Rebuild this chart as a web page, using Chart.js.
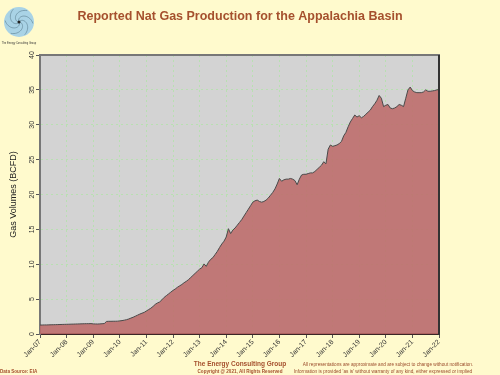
<!DOCTYPE html>
<html>
<head>
<meta charset="utf-8">
<script src="https://cdn.jsdelivr.net/npm/chart.js@4/dist/chart.umd.min.js"></script>
<style>
  html, body { margin: 0; padding: 0; background: #FFFACD; }
  #wrap { width: 500px; height: 375px; }
</style>
</head>
<body>
<div id="wrap"><canvas id="c" width="500" height="375"></canvas></div>
<script>
// ---- DATA (monthly, BCFD) ----
const tickLabels = ['Jan-07','Jan-08','Jan-09','Jan-10','Jan-11','Jan-12','Jan-13','Jan-14',
                    'Jan-15','Jan-16','Jan-17','Jan-18','Jan-19','Jan-20','Jan-21','Jan-22'];
const y2007 = [1.28,1.29,1.30,1.30,1.31,1.32,1.33,1.34,1.35,1.36,1.37,1.38];
const y2008 = [1.39,1.40,1.41,1.42,1.43,1.44,1.45,1.46,1.47,1.48,1.48,1.49];
const y2009 = [1.45,1.44,1.43,1.45,1.47,1.50,1.80,1.82,1.82,1.83,1.83,1.84];
const y2010 = [1.88,1.92,1.98,2.05,2.15,2.28,2.40,2.55,2.70,2.85,2.98,3.10];
const y2011 = [3.30,3.50,3.70,3.95,4.25,4.45,4.60,4.90,5.25,5.50,5.75,6.00];
const y2012 = [6.25,6.45,6.70,6.90,7.10,7.35,7.55,7.80,8.10,8.40,8.70,9.00];
const y2013 = [9.30,9.50,10.05,9.70,10.30,10.70,10.95,11.40,11.85,12.40,12.90,13.30];
const y2014 = [13.90,15.10,14.40,14.90,15.20,15.60,16.00,16.40,16.90,17.40,17.90,18.40];
const y2015 = [18.90,19.10,19.20,19.00,18.90,19.00,19.20,19.50,19.90,20.30,20.80,21.50];
const y2016 = [22.30,21.90,22.10,22.20,22.20,22.30,22.20,22.00,21.40,22.20,22.80,22.90];
const y2017 = [22.90,23.00,23.10,23.10,23.30,23.60,23.90,24.20,24.70,24.40,26.50,27.10];
const y2018 = [26.90,27.00,27.10,27.30,27.60,28.40,28.90,29.70,30.40,30.90,31.40,31.10];
const y2019 = [31.30,31.00,31.20,31.50,31.80,32.10,32.60,33.00,33.50,34.20,33.80,32.60];
const y2020 = [32.80,32.90,32.40,32.30,32.40,32.60,32.90,32.80,32.60,33.80,35.00,35.40];
const y2021 = [34.90,34.70,34.60,34.60,34.60,34.70,35.00,34.80,34.80,34.85,34.90,35.00];
const y2022 = [35.05];

const production = [].concat(y2007,y2008,y2009,y2010,y2011,y2012,y2013,y2014,
                             y2015,y2016,y2017,y2018,y2019,y2020,y2021,y2022);

const FONT = '"Liberation Sans", Arial, sans-serif';
const BROWN = '#A5502D';
const GRID = 'rgba(175,228,165,0.75)';

const decor = {
  id: 'decor',
  beforeDraw(chart) {
    const {ctx, chartArea: a} = chart;
    ctx.save();
    ctx.fillStyle = '#FFFACD';
    ctx.fillRect(0, 0, chart.width, chart.height);
    ctx.fillStyle = '#D3D3D3';
    ctx.fillRect(a.left, a.top, a.right - a.left, a.bottom - a.top);
    ctx.restore();
  },
  afterDraw(chart) {
    const {ctx, chartArea: a} = chart;
    ctx.save();
    // top & right frame
    ctx.lineWidth = 2;
    ctx.strokeStyle = '#777';
    ctx.beginPath(); ctx.moveTo(a.left - 1, a.top); ctx.lineTo(a.right + 1, a.top); ctx.stroke();
    ctx.strokeStyle = '#333';
    ctx.beginPath(); ctx.moveTo(a.right, a.top); ctx.lineTo(a.right, a.bottom + 1); ctx.stroke();

    // title
    ctx.fillStyle = BROWN;
    ctx.textAlign = 'center';
    ctx.textBaseline = 'middle';
    ctx.font = 'bold 12.5px ' + FONT;
    ctx.fillText('Reported Nat Gas Production for the Appalachia Basin', 240, 17);

    // logo
    const cx = 19, cy = 22, r = 15;
    ctx.fillStyle = '#A9D3E6';
    ctx.beginPath(); ctx.arc(cx, cy, r, 0, Math.PI * 2); ctx.fill();
    ctx.strokeStyle = '#5d7f90';
    ctx.lineWidth = 0.6;
    for (let k = 0; k < 6; k++) {
      ctx.beginPath();
      for (let t = 0; t <= 1.0001; t += 0.05) {
        const ang = k * Math.PI / 3 + t * 2.2;
        const rr = t * (r - 1);
        const px = cx + rr * Math.cos(ang), py = cy + rr * Math.sin(ang);
        if (t === 0) ctx.moveTo(px, py); else ctx.lineTo(px, py);
      }
      ctx.stroke();
    }
    ctx.fillStyle = '#222';
    ctx.beginPath(); ctx.arc(cx, cy, 1.5, 0, Math.PI * 2); ctx.fill();
    ctx.font = '2.6px ' + FONT;
    ctx.fillStyle = '#333';
    ctx.fillText('The Energy Consulting Group', cx, 43);

    // footers
    ctx.fillStyle = BROWN;
    ctx.font = 'bold 6.5px ' + FONT;
    ctx.fillText('The Energy Consulting Group', 240, 364);
    ctx.font = 'bold 4.6px ' + FONT;
    ctx.fillText('Copyright @ 2021, All Rights Reserved', 240, 372);
    ctx.textAlign = 'left';
    ctx.fillText('Data Source: EIA', 0, 372);
    ctx.textAlign = 'center';
    ctx.font = '4.7px ' + FONT;
    ctx.fillStyle = '#9a4a2a';
    ctx.fillText('All representations are approximate and are subject to change without notification.', 388, 365);
    ctx.fillText("Information is provided 'as is' without warranty of any kind, either expressed or implied", 383, 372);
    ctx.restore();
  }
};

new Chart(document.getElementById('c'), {
  type: 'line',
  data: {
    datasets: [{
      label: 'Appalachia',
      data: production.map((v, i) => ({x: i, y: v})),
      borderColor: '#4a4a4a',
      borderWidth: 1,
      backgroundColor: 'rgba(189,107,106,0.88)',
      fill: 'origin',
      pointRadius: 0,
      tension: 0
    }]
  },
  options: {
    responsive: false,
    animation: false,
    layout: { padding: { top: 55, right: 61, left: 0, bottom: 0 } },
    plugins: { legend: { display: false }, tooltip: { enabled: false }, title: { display: false } },
    scales: {
      x: {
        type: 'linear',
        min: 0, max: 180,
        afterFit(s) { s.height = 41; },
        ticks: {
          stepSize: 12,
          autoSkip: false,
          minRotation: 45, maxRotation: 45,
          padding: 0,
          color: '#333',
          font: { family: FONT, size: 7 },
          callback: (v) => tickLabels[v / 12]
        },
        grid: { color: GRID, lineWidth: 1, tickLength: 4, tickColor: '#555' },
        border: { display: true, color: '#3b2626', width: 2, dash: [2, 3] }
      },
      y: {
        min: 0, max: 40,
        afterFit(s) { s.width = 40; },
        ticks: {
          stepSize: 5,
          minRotation: 90, maxRotation: 90,
          crossAlign: 'center',
          padding: 0,
          color: '#333',
          font: { family: FONT, size: 7 }
        },
        grid: { color: GRID, lineWidth: 1, tickLength: 4, tickColor: '#555' },
        border: { display: true, color: '#777', width: 2, dash: [2, 3] },
        title: {
          display: true,
          text: 'Gas Volumes (BCFD)',
          color: '#222',
          font: { family: FONT, size: 9 },
          padding: { top: 8, bottom: 0 }
        }
      }
    }
  },
  plugins: [decor]
});
</script>
</body>
</html>
